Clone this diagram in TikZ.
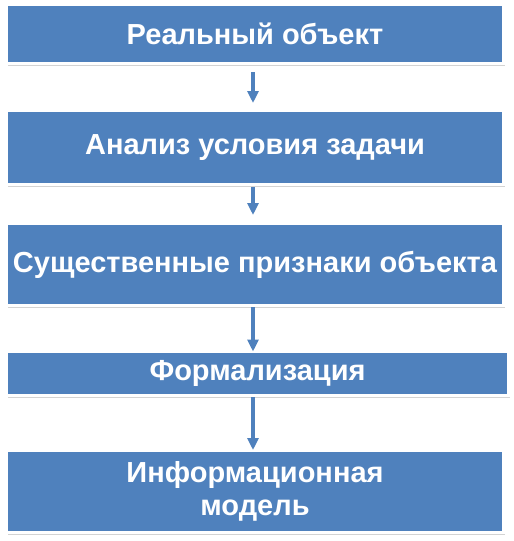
\documentclass[tikz,border=0pt]{standalone}
\usepackage{fontspec}
\setmainfont{Liberation Sans}
\usetikzlibrary{arrows.meta,positioning,shadows}

\definecolor{boxblue}{RGB}{79,129,189}

\begin{document}
\begin{tikzpicture}[
  x=1pt, y=1pt,
  node distance=47pt,
  every node/.style={align=center},
  stagebox/.style={rectangle, fill=boxblue, draw=white, line width=3pt,
    outer sep=0pt, inner sep=0pt, minimum width=497pt,
    text=white, font=\fontsize{29}{33}\selectfont\bfseries,
    drop shadow={shadow xshift=1.5pt, shadow yshift=-2.5pt, opacity=0.35}},
  flow/.style={-{Triangle[width=11pt,length=12pt]}, draw=boxblue, line width=3.5pt}
]
\useasboundingbox (0,0) rectangle (514,-541);

% --- Stages
\node[stagebox, minimum height=59pt, anchor=north west] (real) at (6.5,-4.5)
  {Реальный объект};
\node[stagebox, minimum height=74pt, below=of real] (analysis)
  {Анализ условия задачи};
\node[stagebox, minimum height=82pt, below=39pt of analysis] (features)
  {Существенные признаки объекта};
\node[stagebox, minimum height=44pt, minimum width=502pt,
  below=46pt of features, xshift=2.5pt] (formal)
  {Формализация};
\node[stagebox, minimum height=82pt, below=55pt of formal, xshift=-2.5pt] (model)
  {Информационная\\модель};

% --- Arrows
\coordinate (axis) at (253,0);
\draw[flow, shorten <=8.5pt, shorten >=7.5pt] (real.south -| axis) -- (analysis.north -| axis);
\draw[flow, shorten <=2.5pt, shorten >=8.5pt] (analysis.south -| axis) -- (features.north -| axis);
\draw[flow, shorten <=1.5pt] (features.south -| axis) -- (formal.north -| axis);
\draw[flow, shorten <=1.5pt, shorten >=0.5pt] (formal.south -| axis) -- (model.north -| axis);

\end{tikzpicture}
\end{document}
